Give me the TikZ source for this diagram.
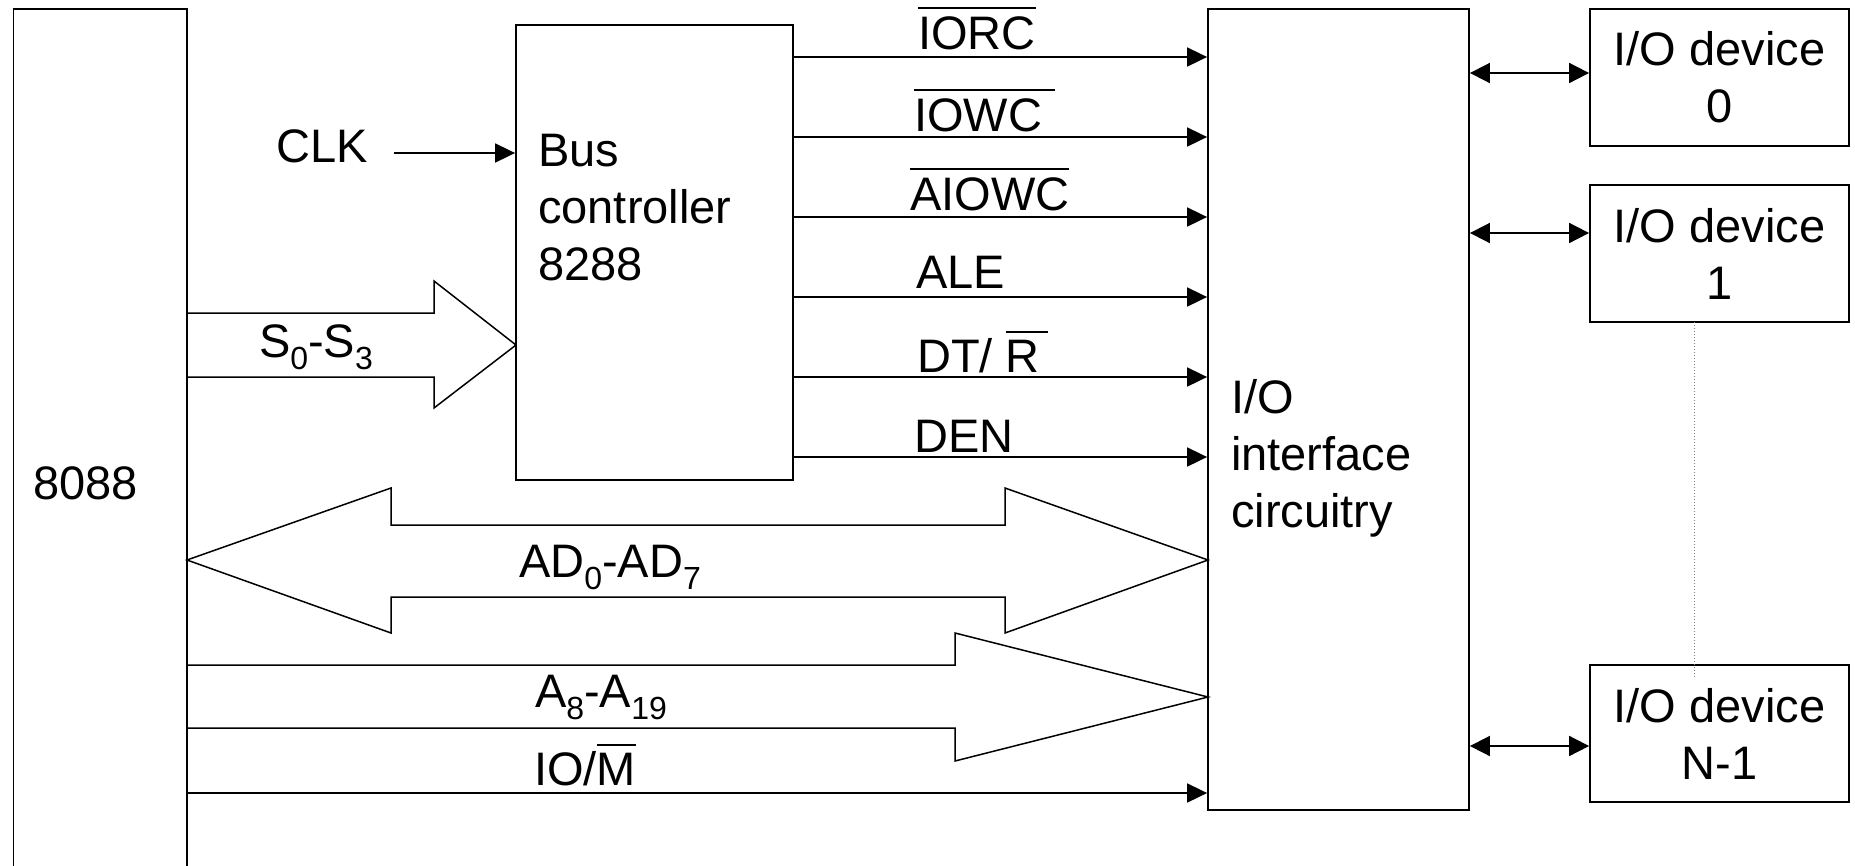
\documentclass[tikz,border=0pt]{standalone}
\usepackage{fontspec}
\setmainfont{Liberation Sans}
\usetikzlibrary{arrows.meta}
\newcommand{\bigfont}{\fontsize{47}{57}\selectfont}
\newcommand{\ovl}[1]{\leavevmode\vbox{\hrule height 1.8pt\kern 7pt\hbox{#1}}}
\newcommand{\subs}[1]{\raisebox{-12pt}{\fontsize{32}{32}\selectfont #1}}
\begin{document}
\begin{tikzpicture}[x=1pt,y=-1pt,
  box/.style={draw, line width=1.8pt, rectangle, inner sep=0pt, font=\bigfont},
  lbl/.style={inner sep=0pt, font=\bigfont},
  arr/.style={line width=1.8pt, -{Triangle[length=20pt,width=19pt]}},
  darr/.style={line width=1.8pt, {Triangle[length=20pt,width=20pt]}-{Triangle[length=20pt,width=20pt]}},
  fat/.style={draw, line width=1.5pt, fill=white, line join=miter},
  dots/.style={dotted, line width=1pt, gray}
]
\useasboundingbox (0,0) rectangle (1855,865);

% boxes
\node[box, minimum width=173.5pt, minimum height=859pt] (cpu) at (100.25,438.5) {};
\node[lbl, anchor=base west] (cputxt) at (33,499) {8088};

\node[box, minimum width=277pt, minimum height=455pt] (bus) at (654.5,252.5) {};
\node[lbl, anchor=north west, align=left] (bustxt) at (538,134) {Bus\\controller\\8288};

\node[box, minimum width=261pt, minimum height=801pt] (iface) at (1338.5,409.5) {};
\node[lbl, anchor=north west, align=left] (ifacetxt) at (1231,379) {I/O\\interface\\circuitry};

\node[box, minimum width=259pt, minimum height=137pt, align=center] (dev0) at (1719.5,77.5) {I/O device\\0};
\node[box, minimum width=259pt, minimum height=137pt, align=center] (dev1) at (1719.5,253.5) {I/O device\\1};
\node[box, minimum width=259pt, minimum height=137pt, align=center] (devn) at (1719.5,733.5) {I/O device\\N-1};

% CLK
\node[lbl, anchor=base west] (clk) at (276,162) {CLK};
\coordinate (clkin) at (394,153);
\draw[arr] (clkin) -- (clkin -| bus.west);

% control signals
\coordinate (y1) at (0,57);
\coordinate (y2) at (0,137);
\coordinate (y3) at (0,217);
\coordinate (y4) at (0,297);
\coordinate (y5) at (0,377);
\coordinate (y6) at (0,457);
\foreach \c in {y1,y2,y3,y4,y5,y6}
  \draw[arr] (bus.east |- \c) -- (iface.west |- \c);

\node[lbl, anchor=base west] (iorc) at (918,49) {\ovl{IORC}};
\node[lbl, anchor=base west] (iowc) at (914,131) {\ovl{IOWC\ }};
\node[lbl, anchor=base west] (aiowc) at (910,210) {\ovl{AIOWC}};
\node[lbl, anchor=base west] (ale) at (916,288) {ALE};
\node[lbl, anchor=base west] (dtr) at (917,372) {DT/ \ovl{R\kern8pt}};
\node[lbl, anchor=base west] (den) at (914,452) {DEN};

% fat arrows
\draw[fat] (187,313) -- (434,313) -- (434,281) -- (516,345) -- (434,408) -- (434,377) -- (187,377) -- cycle;
\node[lbl, anchor=base] (stxt) at (316,357) {S\subs{0}-S\subs{3}};

\draw[fat] (187,560) -- (391,488) -- (391,525) -- (1005,525) -- (1005,488) -- (1208,560)
  -- (1005,633) -- (1005,597) -- (391,597) -- (391,633) -- cycle;
\node[lbl, anchor=base] (adtxt) at (610,577) {AD\subs{0}-AD\subs{7}};

\draw[fat] (187,665) -- (955,665) -- (955,633) -- (1208,697) -- (955,761) -- (955,728) -- (187,728) -- cycle;
\node[lbl, anchor=base] (atxt) at (601,707) {A\subs{8}-A\subs{19}};

% IO/M
\coordinate (yio) at (0,793);
\draw[arr] (cpu.east |- yio) -- (iface.west |- yio);
\node[lbl, anchor=base west] (iomtxt) at (534,785) {IO/\ovl{M}};

% device links
\coordinate (d0) at (0,73);
\coordinate (d1) at (0,233);
\coordinate (dn) at (0,746);
\draw[darr] (iface.east |- d0) -- (dev0.west |- d0);
\draw[darr] (iface.east |- d1) -- (dev1.west |- d1);
\draw[darr] (iface.east |- dn) -- (devn.west |- dn);

\draw[dots] (1694,322) -- (1694,679);
\end{tikzpicture}
\end{document}
